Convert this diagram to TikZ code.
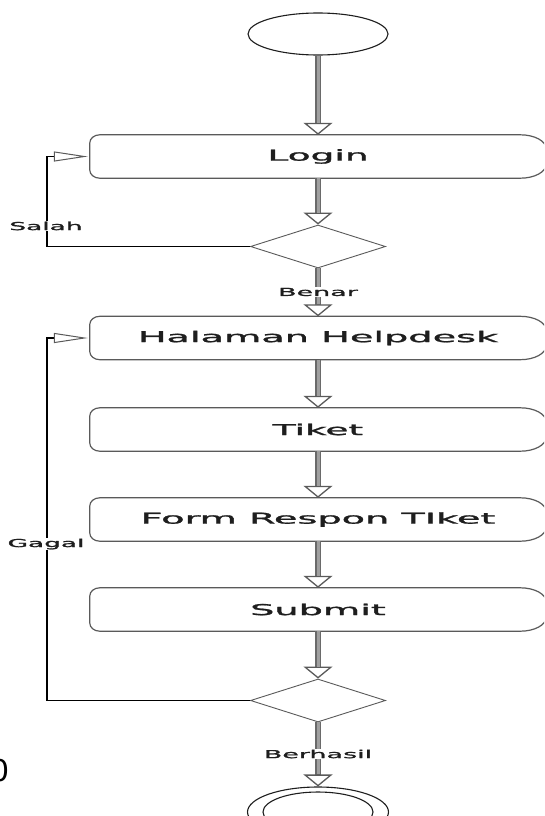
\documentclass[tikz,border=0pt]{standalone}
\usepackage{fontspec}
\setmainfont{DejaVu Sans}
\newfontfamily\heavy[FakeBold=1.2]{DejaVu Sans}
\usetikzlibrary{arrows.meta,calc,shapes.geometric}

\definecolor{inkc}{HTML}{1E1E1E}
\definecolor{edgec}{HTML}{5A5A5A}
\definecolor{stemdark}{HTML}{6A6A6A}
\definecolor{stemlight}{HTML}{A0A0A0}

\newcommand\wide[2]{\scalebox{#1}[1]{#2}}

% outline of an activity: small corners on the left, wide rounded end on the right
\newcommand\actframe[1]{%
  \draw[frame] ($(#1.north west)+(10pt,0pt)$) -- ($(#1.north east)+(-26pt,0pt)$)
    arc[start angle=90,end angle=0,x radius=26pt,y radius=14pt]
    -- ($(#1.south east)+(0pt,14pt)$)
    arc[start angle=0,end angle=-90,x radius=26pt,y radius=14pt]
    -- ($(#1.south west)+(10pt,0pt)$)
    arc[start angle=270,end angle=180,x radius=10pt,y radius=8pt]
    -- ($(#1.north west)+(0pt,-8pt)$)
    arc[start angle=180,end angle=90,x radius=10pt,y radius=8pt] -- cycle;}

\tikzset{
  x=1pt, y=-1pt,
  act/.style={minimum width=456pt, minimum height=43pt, inner sep=0pt,
    text=inkc, font=\heavy\fontsize{15}{18}\selectfont},
  frame/.style={draw=edgec, line width=1.2pt},
  choice/.style={shape=diamond, draw=edgec, line width=0.9pt,
    minimum width=135pt, minimum height=43pt, inner sep=0pt},
  terminal/.style={shape=ellipse, draw=inkc, line width=1.1pt, inner sep=0pt},
  flow/.style={draw=stemdark, line width=6pt,
    -{Triangle[width=29pt,length=12pt,line width=1.3pt,color=edgec,fill=white]},
    postaction={draw=stemlight, line width=3pt, -, shorten >=12pt}},
  back/.style={draw=black, line width=1.6pt,
    -{Triangle[open,width=10pt,length=34pt,line width=1pt,color=edgec]},
    shorten >=2pt},
  guard/.style={fill=white, inner sep=1pt, text=inkc,
    font=\heavy\fontsize{11}{13}\selectfont}
}

\begin{document}
\begin{tikzpicture}
\useasboundingbox (0,0) rectangle (544,816);
\clip (0,0) rectangle (544,816);
\fill[white] (0,0) rectangle (544,816);

% nodes
\node[terminal, minimum width=140pt, minimum height=42pt] (start) at (318,34) {};
\node[act] (login)  at (318,156.5) {\wide{2.5}{Login}};
\node[choice] (cek1) at (318,246.5) {};
\node[act] (home)   at (318,338) {\wide{2.55}{Halaman Helpdesk}};
\node[act] (tiket)  at (318,429.5) {\wide{2.5}{Tiket}};
\node[act] (form)   at (318,519.5) {\wide{2.55}{Form Respon TIket}};
\node[act] (submit) at (318,609.5) {\wide{2.55}{Submit}};
\node[choice] (cek2) at (318,700.5) {};
\node[terminal, minimum width=141pt, minimum height=50pt] (finish) at (318,812) {};
\node[terminal, minimum width=110pt, minimum height=40pt] (finishin) at (318,812) {};

\foreach \n in {login,home,tiket,form,submit} {\actframe{\n}}

% main flow
\draw[flow] (start) -- (login);
\draw[flow] (login) -- (cek1);
\draw[flow] (cek1) -- (home);
\draw[flow] (home) -- (tiket);
\draw[flow] (tiket) -- (form);
\draw[flow] (form) -- (submit);
\draw[flow] (submit) -- (cek2);
\draw[flow] (cek2) -- (finish);

% return paths
\coordinate (salahtop) at (47,156.5);
\coordinate (gagaltop) at (47,338);
\draw[back] (cek1.west) -| (salahtop) -- (login.west);
\draw[back] (cek2.west) -| (gagaltop) -- (home.west);

% guards
\node[guard] (lsalah) at (46,226) {\wide{2.4}{Salah}};
\node[guard] (lgagal) at (46,544) {\wide{2.4}{Gagal}};
\node[guard] (lbenar) at (318,292) {\wide{2.45}{Benar}};
\node[guard] (lberhasil) at (318,754) {\wide{2.45}{Berhasil}};

% stray glyph at the left edge
\node[anchor=east, inner sep=0pt, text=black, font=\fontsize{30}{32}\selectfont] (zero) at (10,771) {0};
\end{tikzpicture}
\end{document}
